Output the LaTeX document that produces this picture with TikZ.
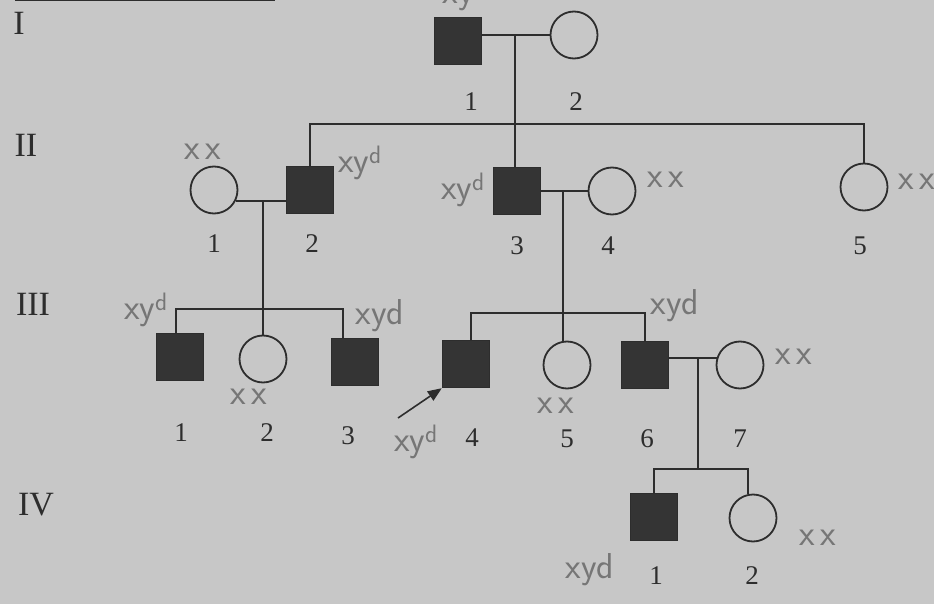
\documentclass[tikz,border=0pt]{standalone}
\usepackage{fontspec}
\setmainfont{Liberation Serif}
\usetikzlibrary{arrows.meta}
\definecolor{paper}{RGB}{199,199,199}
\definecolor{ink}{RGB}{45,45,45}
\definecolor{affected}{RGB}{52,52,52}
\definecolor{pencil}{RGB}{118,118,118}
\begin{document}
\begin{tikzpicture}[x=1pt,y=-1pt,
  male/.style={rectangle, draw=ink, fill=affected, line width=1.4pt, minimum size=47pt, inner sep=0pt},
  female/.style={circle, draw=ink, line width=1.8pt, minimum size=47pt, inner sep=0pt},
  link/.style={draw=ink, line width=2pt},
  num/.style={font=\fontsize{27}{27}\selectfont, text=ink, inner sep=0pt},
  gen/.style={font=\fontsize{34}{34}\selectfont, text=ink, inner sep=0pt},
  geno/.style={font=\sffamily\fontsize{36}{36}\selectfont, text=pencil, inner sep=0pt},
]
\fill[paper] (0,0) rectangle (934,604);
\useasboundingbox (0,0) rectangle (934,604);

% rule at the top of the page
\draw[ink, line width=3pt] (15,0) -- (275,0);

% generation numerals
\node[gen] (gI)   at (19,23)  {I};
\node[gen] (gII)  at (26,145) {II};
\node[gen] (gIII) at (33,304) {III};
\node[gen] (gIV)  at (36,505) {IV};

% generation I
\node[male]   (I1) at (458,41) {};
\node[female] (I2) at (574,35) {};
% generation II
\node[female] (II1) at (214,190) {};
\node[male]   (II2) at (310,190) {};
\node[male]   (II3) at (517,191) {};
\node[female] (II4) at (612,191) {};
\node[female] (II5) at (864,187) {};
% generation III
\node[male]   (III1) at (180,357) {};
\node[female] (III2) at (263,359) {};
\node[male]   (III3) at (355,362) {};
\node[male]   (III4) at (466,364) {};
\node[female] (III5) at (567,365) {};
\node[male]   (III6) at (645,365) {};
\node[female] (III7) at (740,365) {};
% generation IV
\node[male]   (IV1) at (654,517) {};
\node[female] (IV2) at (753,518) {};

% marriages and descent lines
\coordinate (m1) at (515,35);
\coordinate (s2) at (515,124);
\draw[link] (I2.west) -- (I2.west -| I1.east);
\draw[link] (m1) -- (s2);
\draw[link] (II2.north) |- (s2);
\draw[link] (s2) -| (II5.north);
\draw[link] (s2) -- (s2 |- II3.north);

\coordinate (m2) at (263,201);
\coordinate (s3a) at (263,309);
\draw[link] (II1.-27) -- (II1.-27 -| II2.west);
\draw[link] (m2) -- (III2.north);
\draw[link] (III1.100) |- (s3a);
\draw[link] (s3a) -| (III3.117);

\coordinate (m3) at (563,191);
\coordinate (s3b) at (563,313);
\draw[link] (II3.east) -- (II4.west);
\draw[link] (m3) -- (m3 |- III5.north);
\draw[link] (III4.78) |- (s3b);
\draw[link] (s3b) -| (III6.north);

\coordinate (m4) at (698,358);
\coordinate (s4) at (698,469);
\draw[link] (III7.163) -- (III7.163 -| III6.east);
\draw[link] (m4) -- (s4);
\draw[link] (IV1.north) |- (s4);
\draw[link] (s4) -| (IV2.102);

% proband arrow
\coordinate (prob) at (398,418);
\draw[ink, line width=1.6pt, -{Triangle[length=14pt,width=11pt]}] (prob) -- (III4.south west);

% individual numbers
\node[num] (nI1) at (471,102) {1};
\node[num] (nI2) at (576,102) {2};
\node[num] (nII1) at (214,244) {1};
\node[num] (nII2) at (312,244) {2};
\node[num] (nII3) at (517,246) {3};
\node[num] (nII4) at (608,246) {4};
\node[num] (nII5) at (860,246) {5};
\node[num] (nIII1) at (181,433) {1};
\node[num] (nIII2) at (267,433) {2};
\node[num] (nIII3) at (348,436) {3};
\node[num] (nIII4) at (472,438) {4};
\node[num] (nIII5) at (567,439) {5};
\node[num] (nIII6) at (647,439) {6};
\node[num] (nIII7) at (740,439) {7};
\node[num] (nIV1) at (656,576) {1};
\node[num] (nIV2) at (752,576) {2};

% pencilled genotypes
\node[geno] (tI1)   at (458,-1)  {xy};
\node[geno] (tI2)   at (590,-11) {x\,x};
\node[geno] (tII1)  at (203,152) {x\,x};
\node[geno] (tII2)  at (360,163) {xy\textsuperscript{d}};
\node[geno] (tII3)  at (463,190) {xy\textsuperscript{d}};
\node[geno] (tII4)  at (666,180) {x\,x};
\node[geno] (tII5)  at (917,182) {x\,x};
\node[geno] (tIII1) at (146,310) {xy\textsuperscript{d}};
\node[geno] (tIII2) at (249,397) {x\,x};
\node[geno] (tIII3) at (380,316) {xyd};
\node[geno] (tIII4) at (416,442) {xy\textsuperscript{d}};
\node[geno] (tIII5) at (556,406) {x\,x};
\node[geno] (tIII6) at (675,306) {xyd};
\node[geno] (tIII7) at (794,357) {x\,x};
\node[geno] (tIV1)  at (590,570) {xyd};
\node[geno] (tIV2)  at (818,538) {x\,x};
\end{tikzpicture}
\end{document}
